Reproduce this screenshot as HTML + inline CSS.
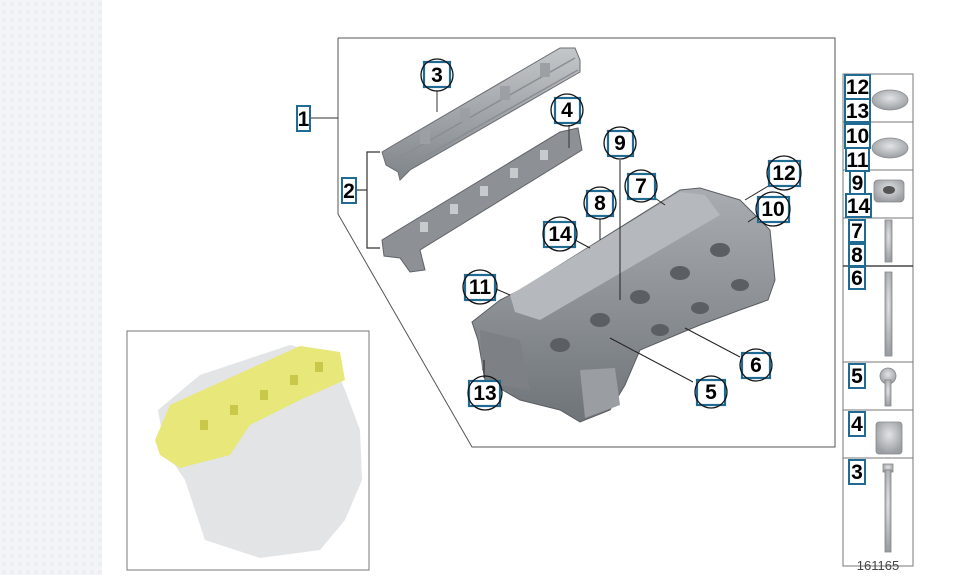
<!DOCTYPE html>
<html><head><meta charset="utf-8"><style>
html,body{margin:0;padding:0;background:#fff;}
body{width:974px;height:575px;overflow:hidden;position:relative;font-family:"Liberation Sans",sans-serif;}
</style></head><body>
<svg width="974" height="575" viewBox="0 0 974 575" xmlns="http://www.w3.org/2000/svg" font-family="Liberation Sans, sans-serif">
<defs>
<pattern id="pt" width="8" height="8" patternUnits="userSpaceOnUse"><rect width="8" height="8" fill="#f3f4f6"/><circle cx="4" cy="4" r="2" fill="#ecedf0"/></pattern>
<linearGradient id="gh" x1="0" y1="0" x2="0" y2="1"><stop offset="0" stop-color="#a9adb1"/><stop offset="1" stop-color="#6f7479"/></linearGradient>
<linearGradient id="gr" x1="0" y1="0" x2="0" y2="1"><stop offset="0" stop-color="#c4c7ca"/><stop offset="1" stop-color="#7f8489"/></linearGradient>
<radialGradient id="gc" cx="0.5" cy="0.4" r="0.6"><stop offset="0" stop-color="#e2e3e5"/><stop offset="1" stop-color="#9a9ea2"/></radialGradient>
</defs>
<rect x="0" y="0" width="102" height="575" fill="url(#pt)"/>

<polyline points="338,38 835,38 835,447 472,447 338,214 338,38" fill="none" stroke="#555" stroke-width="1"/>
<line x1="310" y1="118" x2="338" y2="118" stroke="#333" stroke-width="1"/>
<polyline points="380,152 367,152 367,248 380,248" fill="none" stroke="#333" stroke-width="1.2"/>
<line x1="356" y1="190" x2="367" y2="190" stroke="#333" stroke-width="1.2"/>

<polygon points="382,152 392,146 560,48 575,48 580,60 580,72 410,170 400,180 398,172 386,165" fill="url(#gr)" stroke="#6a6e72" stroke-width="1"/>
<path d="M395,160 L575,58 M410,165 L578,70" stroke="#8a8e92" stroke-width="1.5" fill="none"/>
<g fill="#9ca0a4"><rect x="420" y="130" width="10" height="14"/><rect x="460" y="108" width="10" height="14"/><rect x="500" y="86" width="10" height="14"/><rect x="540" y="63" width="10" height="14"/></g>
<polygon points="382,240 395,232 560,132 578,128 582,150 420,250 425,270 410,272 400,258 384,256" fill="#8d9196" stroke="#5f6367" stroke-width="1"/>
<g fill="#c8cbce"><rect x="420" y="222" width="8" height="10"/><rect x="450" y="204" width="8" height="10"/><rect x="480" y="186" width="8" height="10"/><rect x="510" y="168" width="8" height="10"/><rect x="540" y="150" width="8" height="10"/></g>
<line x1="437" y1="91" x2="437" y2="112" stroke="#333"/>
<line x1="569" y1="125" x2="569" y2="148" stroke="#333"/>

<polygon points="472,322 500,300 520,290 680,190 700,188 740,200 770,230 775,280 768,300 740,310 700,325 640,350 625,385 610,410 580,422 560,410 520,400 485,380 478,340" fill="url(#gh)" stroke="#5a5e62" stroke-width="1"/>
<polygon points="510,295 680,192 705,195 720,215 540,320 515,312" fill="#b5b9bd"/>
<g fill="#5b5f63"><ellipse cx="560" cy="345" rx="10" ry="7"/><ellipse cx="600" cy="320" rx="10" ry="7"/><ellipse cx="640" cy="297" rx="10" ry="7"/><ellipse cx="680" cy="273" rx="10" ry="7"/><ellipse cx="720" cy="250" rx="10" ry="7"/><ellipse cx="660" cy="330" rx="9" ry="6"/><ellipse cx="700" cy="308" rx="9" ry="6"/><ellipse cx="740" cy="285" rx="9" ry="6"/></g>
<polygon points="480,330 520,340 530,390 500,385 482,370" fill="#7d8186"/>
<polygon points="580,370 615,368 620,405 585,418" fill="#9a9ea2"/>

<g stroke="#222" stroke-width="1" fill="none">
<line x1="620" y1="160" x2="620" y2="300"/>
<line x1="652" y1="196" x2="665" y2="205"/>
<line x1="770" y1="185" x2="745" y2="200"/>
<line x1="757" y1="216" x2="748" y2="222"/>
<line x1="600" y1="219" x2="600" y2="240"/>
<line x1="575" y1="240" x2="590" y2="248"/>
<line x1="496" y1="289" x2="510" y2="295"/>
<line x1="484" y1="360" x2="484" y2="378"/>
<line x1="740" y1="357" x2="685" y2="328"/>
<line x1="693" y1="382" x2="610" y2="338"/>
</g>

<g stroke="#1f6b94" stroke-width="2.2" fill="#fff">
<rect x="424" y="62" width="26" height="25"/>
<rect x="555" y="98" width="25" height="25"/>
<rect x="608" y="131" width="25" height="25"/>
<rect x="628" y="174" width="27" height="25"/>
<rect x="769" y="161" width="31" height="25"/>
<rect x="587" y="191" width="26" height="25"/>
<rect x="758" y="197" width="31" height="25"/>
<rect x="544" y="222" width="31" height="25"/>
<rect x="465" y="275" width="30" height="25"/>
<rect x="742" y="353" width="28" height="25"/>
<rect x="697" y="380" width="28" height="25"/>
<rect x="469" y="381" width="31" height="25"/>
</g>
<g stroke="#111" stroke-width="1.3" fill="none">
<circle cx="437" cy="75" r="16"/><circle cx="567" cy="110" r="16"/><circle cx="620" cy="143" r="16"/><circle cx="641" cy="186" r="16"/><circle cx="784" cy="173" r="17"/><circle cx="600" cy="203" r="16"/><circle cx="773" cy="209" r="17"/><circle cx="560" cy="234" r="17"/><circle cx="480" cy="287" r="17"/><circle cx="756" cy="365" r="16"/><circle cx="711" cy="392" r="16"/><circle cx="485" cy="393" r="17"/>
</g>
<g font-weight="bold" font-size="21" text-anchor="middle" fill="#000">
<text x="437" y="82">3</text><text x="567" y="117">4</text><text x="620" y="150">9</text><text x="641" y="193">7</text><text x="784" y="180">12</text><text x="600" y="210">8</text><text x="773" y="216">10</text><text x="560" y="241">14</text><text x="480" y="294">11</text><text x="756" y="372">6</text><text x="711" y="399">5</text><text x="485" y="400">13</text>
</g>
<rect x="297" y="106" width="13" height="25" fill="#fff" stroke="#1f6b94" stroke-width="2"/>
<text x="303.5" y="126" font-weight="bold" font-size="21" text-anchor="middle">1</text>
<rect x="342" y="178" width="14" height="25" fill="#fff" stroke="#1f6b94" stroke-width="2"/>
<text x="349" y="198" font-weight="bold" font-size="21" text-anchor="middle">2</text>

<rect x="127" y="331" width="242" height="239" fill="#fff" stroke="#777" stroke-width="1"/>
<polygon points="158,410 200,375 290,345 330,355 345,390 360,430 362,480 345,520 320,550 260,558 205,540 185,480 165,450" fill="#e3e4e6"/>
<polygon points="155,440 170,405 300,346 340,352 345,380 300,400 250,425 230,455 180,468 160,455" fill="#e8e77a"/>
<g fill="#c9c84a"><rect x="200" y="420" width="8" height="10"/><rect x="230" y="405" width="8" height="10"/><rect x="260" y="390" width="8" height="10"/><rect x="290" y="375" width="8" height="10"/><rect x="315" y="362" width="8" height="10"/></g>

<rect x="843" y="74" width="70" height="492" fill="#fff" stroke="#777" stroke-width="1"/>
<g stroke="#777" stroke-width="1"><line x1="843" y1="122" x2="913" y2="122"/><line x1="843" y1="170" x2="913" y2="170"/><line x1="843" y1="218" x2="913" y2="218"/><line x1="843" y1="362" x2="913" y2="362"/><line x1="843" y1="410" x2="913" y2="410"/><line x1="843" y1="458" x2="913" y2="458"/></g>
<line x1="843" y1="266" x2="913" y2="266" stroke="#222" stroke-width="1.2"/>
<g fill="url(#gc)" stroke="#888" stroke-width="0.8">
<ellipse cx="890" cy="100" rx="18" ry="10"/><ellipse cx="890" cy="148" rx="18" ry="10"/>
<rect x="874" y="180" width="30" height="22" rx="4"/>
<rect x="885" y="220" width="7" height="42"/>
<rect x="885" y="272" width="7" height="84"/>
<circle cx="888" cy="376" r="8"/><rect x="885" y="380" width="6" height="26"/>
<rect x="876" y="422" width="26" height="32" rx="3"/>
<rect x="883" y="464" width="10" height="8"/><rect x="885" y="470" width="6" height="82"/>
</g>
<ellipse cx="889" cy="190" rx="6" ry="4" fill="#555"/>
<g stroke="#1f6b94" stroke-width="2" fill="#fff">
<rect x="845" y="75" width="25" height="24"/><rect x="845" y="99" width="25" height="23"/>
<rect x="845" y="124" width="25" height="24"/><rect x="846" y="148" width="23" height="23"/>
<rect x="850" y="171" width="15" height="23"/><rect x="846" y="194" width="25" height="23"/>
<rect x="849" y="220" width="16" height="22"/><rect x="849" y="244" width="16" height="22"/>
<rect x="849" y="267" width="16" height="22"/>
<rect x="849" y="364" width="16" height="24"/><rect x="849" y="412" width="16" height="24"/><rect x="849" y="460" width="16" height="24"/>
</g>
<g font-weight="bold" font-size="21" text-anchor="middle" fill="#000">
<text x="857.5" y="94">12</text><text x="857.5" y="118">13</text><text x="857.5" y="143">10</text><text x="857.5" y="167">11</text><text x="857.5" y="190">9</text><text x="858.5" y="213">14</text><text x="857" y="238">7</text><text x="857" y="262">8</text><text x="857" y="285">6</text><text x="857" y="383">5</text><text x="857" y="431">4</text><text x="857" y="479">3</text>
</g>
<text x="878" y="570" font-size="13" fill="#444" text-anchor="middle">161165</text>
</svg>
</body></html>
